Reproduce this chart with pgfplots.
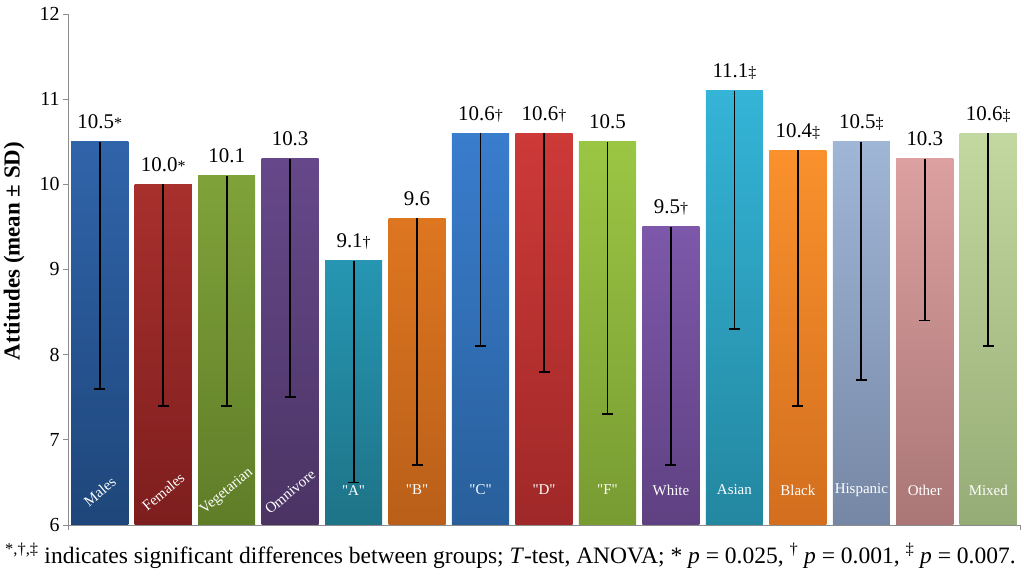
\documentclass[border=0pt]{standalone}
\usepackage{pgfplots}
\usepackage{pgfplotstable}
\pgfplotsset{compat=1.18}
\usepackage{fontspec}
\setmainfont{Liberation Serif}
\newfontfamily\qfont{Liberation Serif}
\newcommand{\mk}[1]{{\fontsize{16}{16}\selectfont #1}}
\newcommand{\qq}[1]{{\qfont"}#1{\qfont"}}

\definecolor{t0}{RGB}{48,100,170}\definecolor{b0}{RGB}{30,70,122}
\definecolor{t1}{RGB}{168,48,45}\definecolor{b1}{RGB}{125,30,30}
\definecolor{t2}{RGB}{128,162,58}\definecolor{b2}{RGB}{95,125,40}
\definecolor{t3}{RGB}{102,72,138}\definecolor{b3}{RGB}{75,52,100}
\definecolor{t4}{RGB}{38,150,178}\definecolor{b4}{RGB}{30,115,135}
\definecolor{t5}{RGB}{222,118,32}\definecolor{b5}{RGB}{185,95,25}
\definecolor{t6}{RGB}{58,125,205}\definecolor{b6}{RGB}{40,95,155}
\definecolor{t7}{RGB}{205,58,56}\definecolor{b7}{RGB}{160,40,40}
\definecolor{t8}{RGB}{155,198,68}\definecolor{b8}{RGB}{120,155,50}
\definecolor{t9}{RGB}{125,88,170}\definecolor{b9}{RGB}{95,65,130}
\definecolor{t10}{RGB}{52,180,215}\definecolor{b10}{RGB}{35,135,160}
\definecolor{t11}{RGB}{250,145,45}\definecolor{b11}{RGB}{210,110,30}
\definecolor{t12}{RGB}{160,182,215}\definecolor{b12}{RGB}{118,135,165}
\definecolor{t13}{RGB}{220,160,160}\definecolor{b13}{RGB}{170,118,118}
\definecolor{t14}{RGB}{195,215,160}\definecolor{b14}{RGB}{150,172,118}

\pgfplotstableread{
x y label
0 6.39 Males
1 6.39 Females
2 6.39 Vegetarian
3 6.39 Omnivore
}\rotlabels
\pgfplotstableread{
x y label
4 6.41 \qq{A}
5 6.41 \qq{B}
6 6.41 \qq{C}
7 6.41 \qq{D}
8 6.41 \qq{F}
9 6.41 White
10 6.41 Asian
11 6.41 Black
12 6.41 Hispanic
13 6.41 Other
14 6.41 Mixed
}\horlabels

\begin{document}
\begin{tikzpicture}
\path[use as bounding box] (-68bp,-53bp) rectangle (956bp,525bp);
\begin{axis}[
 scale only axis, width=952bp, height=511bp,
 xmin=-0.5, xmax=14.5, ymin=6, ymax=12,
 axis x line=bottom, axis y line=left,
 axis line style={-, black!45, line width=0.8bp},
 ytick={6,7,...,12}, xtick={-0.5,14.5}, xticklabels={},
 tick align=outside, major tick length=5bp,
 tick style={black!45, line width=0.8bp},
 yticklabel style={font=\fontsize{20}{20}\selectfont, black},
 /pgf/number format/assume math mode=true,
 clip=false,
 error bars/y dir=minus, error bars/y explicit,
 error bars/error bar style={black, line width=1.8bp},
 error bars/error mark options={black, rotate=90, line width=1.8bp, mark size=5.5bp},
 every node near coord/.append style={font=\fontsize{21}{21}\selectfont, black, text depth=0pt, inner sep=0pt, yshift=13bp},
 mybar/.style 2 args={ybar, bar width=0.9, bar shift=0pt, draw=none, top color=#1, bottom color=#2, shading angle=0},
]
\addplot[mybar={t0}{b0}, nodes near coords={10.5\mk{*}}] coordinates {(0,10.5) -= (0,2.9)};
\addplot[mybar={t1}{b1}, nodes near coords={10.0\mk{*}}] coordinates {(1,10.0) -= (0,2.6)};
\addplot[mybar={t2}{b2}, nodes near coords={10.1}] coordinates {(2,10.1) -= (0,2.7)};
\addplot[mybar={t3}{b3}, nodes near coords={10.3}] coordinates {(3,10.3) -= (0,2.8)};
\addplot[mybar={t4}{b4}, nodes near coords={9.1\mk{†}}] coordinates {(4,9.1) -= (0,2.6)};
\addplot[mybar={t5}{b5}, nodes near coords={9.6}] coordinates {(5,9.6) -= (0,2.9)};
\addplot[mybar={t6}{b6}, nodes near coords={10.6\mk{†}}] coordinates {(6,10.6) -= (0,2.5)};
\addplot[mybar={t7}{b7}, nodes near coords={10.6\mk{†}}] coordinates {(7,10.6) -= (0,2.8)};
\addplot[mybar={t8}{b8}, nodes near coords={10.5}] coordinates {(8,10.5) -= (0,3.2)};
\addplot[mybar={t9}{b9}, nodes near coords={9.5\mk{†}}] coordinates {(9,9.5) -= (0,2.8)};
\addplot[mybar={t10}{b10}, nodes near coords={11.1\mk{‡}}] coordinates {(10,11.1) -= (0,2.8)};
\addplot[mybar={t11}{b11}, nodes near coords={10.4\mk{‡}}] coordinates {(11,10.4) -= (0,3.0)};
\addplot[mybar={t12}{b12}, nodes near coords={10.5\mk{‡}}] coordinates {(12,10.5) -= (0,2.8)};
\addplot[mybar={t13}{b13}, nodes near coords={10.3}] coordinates {(13,10.3) -= (0,1.9)};
\addplot[mybar={t14}{b14}, nodes near coords={10.6\mk{‡}}] coordinates {(14,10.6) -= (0,2.5)};

\addplot[only marks, mark=*, mark size=0pt, mark options={draw=none, fill=none},
  nodes near coords, point meta=explicit symbolic,
  every node near coord/.style={font=\fontsize{15}{15}\selectfont, white, anchor=center, rotate=40, inner sep=0pt}]
  table[x=x, y=y, meta=label] {\rotlabels};
\addplot[only marks, mark=*, mark size=0pt, mark options={draw=none, fill=none},
  nodes near coords, point meta=explicit symbolic,
  every node near coord/.style={font=\fontsize{15}{15}\selectfont, white, anchor=center, inner sep=0pt}]
  table[x=x, y=y, meta=label] {\horlabels};
\end{axis}
\node[rotate=90, font=\bfseries\fontsize{23}{23}\selectfont] at (-54bp,274bp) {Attitudes (mean ± SD)};
\node[anchor=base west, font=\fontsize{23.6}{26}\selectfont, inner sep=0pt] at (-63bp,-38bp) {\textsuperscript{*,†,‡} indicates significant differences between groups; \textit{T}-test, ANOVA; * \textit{p} = 0.025, \textsuperscript{†} \textit{p} = 0.001, \textsuperscript{‡} \textit{p} = 0.007.};
\end{tikzpicture}
\end{document}
